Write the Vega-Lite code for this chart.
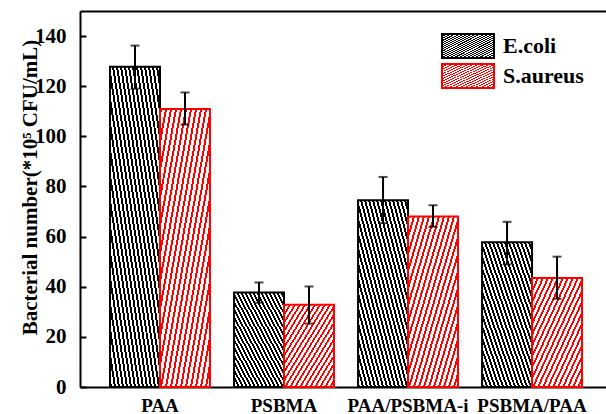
{
  "$schema": "https://vega.github.io/schema/vega-lite/v6.json",
  "width": 526,
  "height": 376,
  "autosize": "none",
  "padding": {"left": 80, "top": 11, "right": 0, "bottom": 27},
  "background": "white",
  "config": {"view": {"stroke": null}, "font": "Liberation Serif"},
  "params": [
    {"name": "gBlack", "value": {"gradient": "linear", "x1": 0, "y1": 1, "x2": 1, "y2": 0, "stops": [
      {"offset":0,"color":"#000"},{"offset":0.02,"color":"#000"},{"offset":0.02,"color":"#fff"},{"offset":0.04,"color":"#fff"},
      {"offset":0.04,"color":"#000"},{"offset":0.06,"color":"#000"},{"offset":0.06,"color":"#fff"},{"offset":0.08,"color":"#fff"},
      {"offset":0.08,"color":"#000"},{"offset":0.10,"color":"#000"},{"offset":0.10,"color":"#fff"},{"offset":0.12,"color":"#fff"},
      {"offset":0.12,"color":"#000"},{"offset":0.14,"color":"#000"},{"offset":0.14,"color":"#fff"},{"offset":0.16,"color":"#fff"},
      {"offset":0.16,"color":"#000"},{"offset":0.18,"color":"#000"},{"offset":0.18,"color":"#fff"},{"offset":0.20,"color":"#fff"},
      {"offset":0.20,"color":"#000"},{"offset":0.22,"color":"#000"},{"offset":0.22,"color":"#fff"},{"offset":0.24,"color":"#fff"},
      {"offset":0.24,"color":"#000"},{"offset":0.26,"color":"#000"},{"offset":0.26,"color":"#fff"},{"offset":0.28,"color":"#fff"},
      {"offset":0.28,"color":"#000"},{"offset":0.30,"color":"#000"},{"offset":0.30,"color":"#fff"},{"offset":0.32,"color":"#fff"},
      {"offset":0.32,"color":"#000"},{"offset":0.34,"color":"#000"},{"offset":0.34,"color":"#fff"},{"offset":0.36,"color":"#fff"},
      {"offset":0.36,"color":"#000"},{"offset":0.38,"color":"#000"},{"offset":0.38,"color":"#fff"},{"offset":0.40,"color":"#fff"},
      {"offset":0.40,"color":"#000"},{"offset":0.42,"color":"#000"},{"offset":0.42,"color":"#fff"},{"offset":0.44,"color":"#fff"},
      {"offset":0.44,"color":"#000"},{"offset":0.46,"color":"#000"},{"offset":0.46,"color":"#fff"},{"offset":0.48,"color":"#fff"},
      {"offset":0.48,"color":"#000"},{"offset":0.50,"color":"#000"},{"offset":0.50,"color":"#fff"},{"offset":0.52,"color":"#fff"},
      {"offset":0.52,"color":"#000"},{"offset":0.54,"color":"#000"},{"offset":0.54,"color":"#fff"},{"offset":0.56,"color":"#fff"},
      {"offset":0.56,"color":"#000"},{"offset":0.58,"color":"#000"},{"offset":0.58,"color":"#fff"},{"offset":0.60,"color":"#fff"},
      {"offset":0.60,"color":"#000"},{"offset":0.62,"color":"#000"},{"offset":0.62,"color":"#fff"},{"offset":0.64,"color":"#fff"},
      {"offset":0.64,"color":"#000"},{"offset":0.66,"color":"#000"},{"offset":0.66,"color":"#fff"},{"offset":0.68,"color":"#fff"},
      {"offset":0.68,"color":"#000"},{"offset":0.70,"color":"#000"},{"offset":0.70,"color":"#fff"},{"offset":0.72,"color":"#fff"},
      {"offset":0.72,"color":"#000"},{"offset":0.74,"color":"#000"},{"offset":0.74,"color":"#fff"},{"offset":0.76,"color":"#fff"},
      {"offset":0.76,"color":"#000"},{"offset":0.78,"color":"#000"},{"offset":0.78,"color":"#fff"},{"offset":0.80,"color":"#fff"},
      {"offset":0.80,"color":"#000"},{"offset":0.82,"color":"#000"},{"offset":0.82,"color":"#fff"},{"offset":0.84,"color":"#fff"},
      {"offset":0.84,"color":"#000"},{"offset":0.86,"color":"#000"},{"offset":0.86,"color":"#fff"},{"offset":0.88,"color":"#fff"},
      {"offset":0.88,"color":"#000"},{"offset":0.90,"color":"#000"},{"offset":0.90,"color":"#fff"},{"offset":0.92,"color":"#fff"},
      {"offset":0.92,"color":"#000"},{"offset":0.94,"color":"#000"},{"offset":0.94,"color":"#fff"},{"offset":0.96,"color":"#fff"},
      {"offset":0.96,"color":"#000"},{"offset":0.98,"color":"#000"},{"offset":0.98,"color":"#fff"},{"offset":1,"color":"#fff"}
    ]}},
    {"name": "gRed", "value": {"gradient": "linear", "x1": 0, "y1": 0, "x2": 1, "y2": 1, "stops": [
      {"offset":0,"color":"#f00"},{"offset":0.02,"color":"#f00"},{"offset":0.02,"color":"#fff"},{"offset":0.05,"color":"#fff"},
      {"offset":0.05,"color":"#f00"},{"offset":0.07,"color":"#f00"},{"offset":0.07,"color":"#fff"},{"offset":0.10,"color":"#fff"},
      {"offset":0.10,"color":"#f00"},{"offset":0.12,"color":"#f00"},{"offset":0.12,"color":"#fff"},{"offset":0.15,"color":"#fff"},
      {"offset":0.15,"color":"#f00"},{"offset":0.17,"color":"#f00"},{"offset":0.17,"color":"#fff"},{"offset":0.20,"color":"#fff"},
      {"offset":0.20,"color":"#f00"},{"offset":0.22,"color":"#f00"},{"offset":0.22,"color":"#fff"},{"offset":0.25,"color":"#fff"},
      {"offset":0.25,"color":"#f00"},{"offset":0.27,"color":"#f00"},{"offset":0.27,"color":"#fff"},{"offset":0.30,"color":"#fff"},
      {"offset":0.30,"color":"#f00"},{"offset":0.32,"color":"#f00"},{"offset":0.32,"color":"#fff"},{"offset":0.35,"color":"#fff"},
      {"offset":0.35,"color":"#f00"},{"offset":0.37,"color":"#f00"},{"offset":0.37,"color":"#fff"},{"offset":0.40,"color":"#fff"},
      {"offset":0.40,"color":"#f00"},{"offset":0.42,"color":"#f00"},{"offset":0.42,"color":"#fff"},{"offset":0.45,"color":"#fff"},
      {"offset":0.45,"color":"#f00"},{"offset":0.47,"color":"#f00"},{"offset":0.47,"color":"#fff"},{"offset":0.50,"color":"#fff"},
      {"offset":0.50,"color":"#f00"},{"offset":0.52,"color":"#f00"},{"offset":0.52,"color":"#fff"},{"offset":0.55,"color":"#fff"},
      {"offset":0.55,"color":"#f00"},{"offset":0.57,"color":"#f00"},{"offset":0.57,"color":"#fff"},{"offset":0.60,"color":"#fff"},
      {"offset":0.60,"color":"#f00"},{"offset":0.62,"color":"#f00"},{"offset":0.62,"color":"#fff"},{"offset":0.65,"color":"#fff"},
      {"offset":0.65,"color":"#f00"},{"offset":0.67,"color":"#f00"},{"offset":0.67,"color":"#fff"},{"offset":0.70,"color":"#fff"},
      {"offset":0.70,"color":"#f00"},{"offset":0.72,"color":"#f00"},{"offset":0.72,"color":"#fff"},{"offset":0.75,"color":"#fff"},
      {"offset":0.75,"color":"#f00"},{"offset":0.77,"color":"#f00"},{"offset":0.77,"color":"#fff"},{"offset":0.80,"color":"#fff"},
      {"offset":0.80,"color":"#f00"},{"offset":0.82,"color":"#f00"},{"offset":0.82,"color":"#fff"},{"offset":0.85,"color":"#fff"},
      {"offset":0.85,"color":"#f00"},{"offset":0.87,"color":"#f00"},{"offset":0.87,"color":"#fff"},{"offset":0.90,"color":"#fff"},
      {"offset":0.90,"color":"#f00"},{"offset":0.92,"color":"#f00"},{"offset":0.92,"color":"#fff"},{"offset":0.95,"color":"#fff"},
      {"offset":0.95,"color":"#f00"},{"offset":0.97,"color":"#f00"},{"offset":0.97,"color":"#fff"},{"offset":1,"color":"#fff"}
    ]}}
  ],
  "data": {"values": [
    {"Group": "PAA", "Bacteria": "E.coli", "value": 127.8, "lo": 119.0, "hi": 136.2},
    {"Group": "PAA", "Bacteria": "S.aureus", "value": 110.9, "lo": 104.7, "hi": 117.5},
    {"Group": "PSBMA", "Bacteria": "E.coli", "value": 37.7, "lo": 33.6, "hi": 41.7},
    {"Group": "PSBMA", "Bacteria": "S.aureus", "value": 32.8, "lo": 25.3, "hi": 40.1},
    {"Group": "PAA/PSBMA-i", "Bacteria": "E.coli", "value": 74.5, "lo": 65.4, "hi": 83.8},
    {"Group": "PAA/PSBMA-i", "Bacteria": "S.aureus", "value": 68.0, "lo": 63.9, "hi": 72.5},
    {"Group": "PSBMA/PAA", "Bacteria": "E.coli", "value": 57.7, "lo": 48.9, "hi": 65.9},
    {"Group": "PSBMA/PAA", "Bacteria": "S.aureus", "value": 43.5, "lo": 35.2, "hi": 52.0}
  ]},
  "layer": [
    {
      "mark": {"type": "bar", "strokeWidth": 2},
      "encoding": {
        "x": {"field": "Group", "type": "nominal", "sort": ["PAA", "PSBMA", "PAA/PSBMA-i", "PSBMA/PAA"],
          "scale": {"paddingInner": 0.194, "paddingOuter": 0.2177, "align": 0.556},
          "axis": {"orient": "bottom", "title": null, "ticks": false, "labelAngle": 0, "labelPadding": 9,
            "labelFont": "Liberation Serif", "labelFontWeight": "bold", "labelFontSize": 19, "labelColor": "#000",
            "labelOverlap": false, "labelBound": false, "domainColor": "#000", "domainWidth": 2}},
        "xOffset": {"field": "Bacteria", "type": "nominal", "scale": {"paddingInner": 0, "paddingOuter": 0}},
        "y": {"field": "value", "type": "quantitative", "scale": {"domain": [0, 150], "nice": false},
          "axis": {"title": "Bacterial number(*10⁵ CFU/mL)", "grid": false,
            "values": [0, 10, 20, 30, 40, 50, 60, 70, 80, 90, 100, 110, 120, 130, 140],
            "labelExpr": "datum.value % 20 === 0 ? datum.label : ''",
            "tickSize": {"condition": {"test": "datum.value % 20 === 0", "value": -6}, "value": -3},
            "tickWidth": 2, "tickColor": "#000", "domainColor": "#000", "domainWidth": 2,
            "labelFont": "Liberation Serif", "labelFontWeight": "bold", "labelFontSize": 21, "labelColor": "#000", "labelPadding": 20,
            "titleFont": "Liberation Serif", "titleFontWeight": "bold", "titleFontSize": 21, "titleColor": "#000",
            "titleX": -50, "titleY": 176, "titleAngle": -90, "titleAlign": "center", "titleBaseline": "middle"}},
        "fill": {"field": "Bacteria", "type": "nominal",
          "scale": {"domain": ["E.coli", "S.aureus"], "range": [{"expr": "gBlack"}, {"expr": "gRed"}]},
          "legend": {"orient": "none", "legendX": 374, "legendY": 21, "title": null,
            "symbolType": "M-2,-0.92H2V0.92H-2Z", "symbolSize": 676, "symbolStrokeWidth": 2, "symbolOpacity": 1,
            "labelFont": "Liberation Serif", "labelFontWeight": "bold", "labelFontSize": 22, "labelColor": "#000",
            "labelOffset": 21, "rowPadding": -7, "padding": 0}},
        "stroke": {"field": "Bacteria", "type": "nominal",
          "scale": {"domain": ["E.coli", "S.aureus"], "range": ["#000000", "#ff0000"]},
          "legend": {"orient": "none", "legendX": 374, "legendY": 21, "title": null,
            "symbolType": "M-2,-0.92H2V0.92H-2Z", "symbolSize": 676, "symbolStrokeWidth": 2, "symbolOpacity": 1,
            "labelFont": "Liberation Serif", "labelFontWeight": "bold", "labelFontSize": 22, "labelColor": "#000",
            "labelOffset": 21, "rowPadding": -7, "padding": 0}}
      }
    },
    {
      "mark": {"type": "rule", "color": "#000", "strokeWidth": 2},
      "encoding": {
        "x": {"field": "Group", "type": "nominal", "sort": ["PAA", "PSBMA", "PAA/PSBMA-i", "PSBMA/PAA"],
          "axis": {"orient": "top", "title": null, "labels": false, "ticks": false, "domainColor": "#000", "domainWidth": 2}},
        "xOffset": {"field": "Bacteria", "type": "nominal"},
        "y": {"field": "lo", "type": "quantitative"},
        "y2": {"field": "hi"}
      }
    },
    {
      "mark": {"type": "tick", "color": "#000", "thickness": 2, "size": 9},
      "encoding": {
        "x": {"field": "Group", "type": "nominal", "sort": ["PAA", "PSBMA", "PAA/PSBMA-i", "PSBMA/PAA"], "axis": null},
        "xOffset": {"field": "Bacteria", "type": "nominal"},
        "y": {"field": "lo", "type": "quantitative"}
      }
    },
    {
      "mark": {"type": "tick", "color": "#000", "thickness": 2, "size": 9},
      "encoding": {
        "x": {"field": "Group", "type": "nominal", "sort": ["PAA", "PSBMA", "PAA/PSBMA-i", "PSBMA/PAA"], "axis": null},
        "xOffset": {"field": "Bacteria", "type": "nominal"},
        "y": {"field": "hi", "type": "quantitative"}
      }
    }
  ],
  "resolve": {"axis": {"x": "independent"}}
}
